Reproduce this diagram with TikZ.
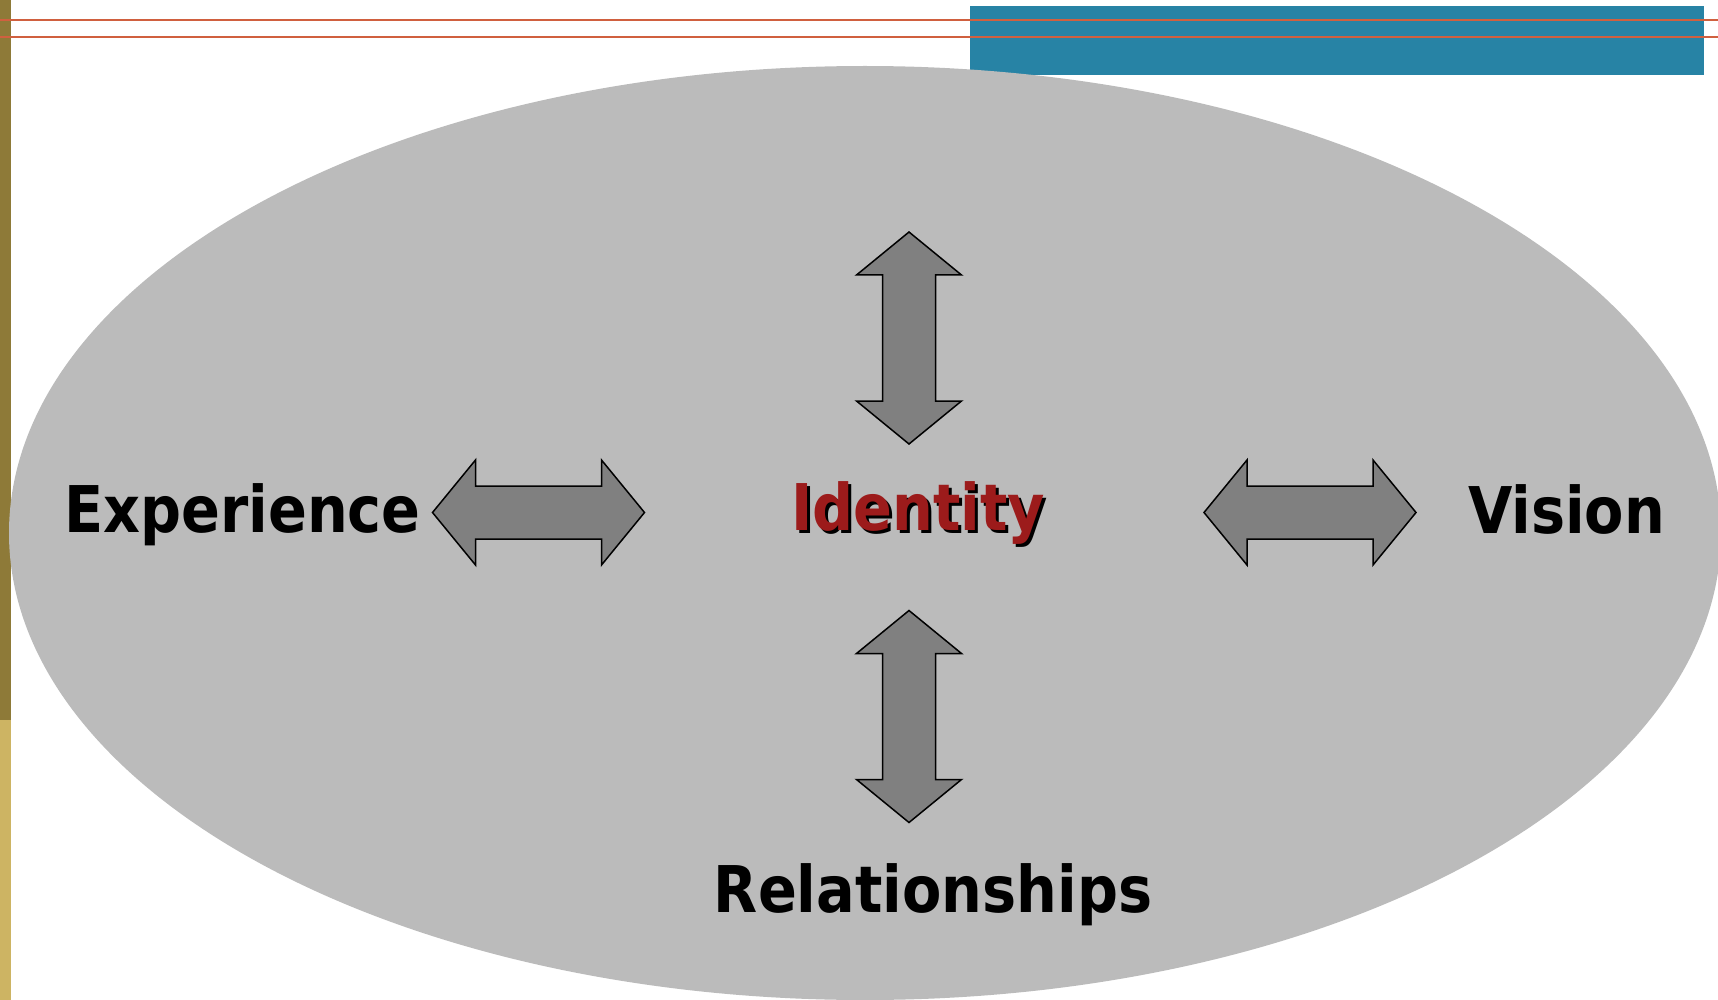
\documentclass[tikz,border=0pt]{standalone}
\usepackage{fontspec}
\newfontfamily\labelfont[FakeStretch=0.89]{DejaVu Sans Bold}
\definecolor{olivebar}{HTML}{8E7A38}
\definecolor{goldbar}{HTML}{CDB463}
\definecolor{topblue}{HTML}{2783A5}
\definecolor{rulered}{HTML}{D0603F}
\definecolor{ovalgray}{HTML}{BBBBBB}
\definecolor{arrowgray}{HTML}{808080}
\definecolor{idred}{HTML}{9C1B1B}
% red word with a small black drop shadow
\newcommand{\shadowword}[1]{\rlap{\hspace{1.5pt}\raisebox{-1.5pt}{\textcolor{black}{#1}}}\textcolor{idred}{#1}}
\tikzset{
  rule/.style={draw=rulered, line width=1pt},
  arrowbody/.style={fill=arrowgray, draw=black, line width=0.75pt, line join=miter},
  word/.style={anchor=base, inner sep=0pt, font=\labelfont\fontsize{32.2}{38}\selectfont},
  dblarrow/.pic={
    \path[arrowbody] (-106,0) -- (-63,-52.5) -- (-63,-26.5) -- (63,-26.5) -- (63,-52.5)
      -- (106,0) -- (63,52.5) -- (63,26.5) -- (-63,26.5) -- (-63,52.5) -- cycle;
  }
}
\begin{document}
\begin{tikzpicture}[x=0.5pt,y=-0.5pt]
  \useasboundingbox (0,0) rectangle (1718,1000);
  \clip (0,0) rectangle (1718,1000);
  % side bar
  \fill[olivebar] (0,0) rectangle (11,720);
  \fill[goldbar] (0,720) rectangle (11,1000);
  % blue header block
  \fill[topblue] (970,6) rectangle (1704,75);
  % large oval
  \fill[ovalgray] (865,533) ellipse [x radius=856, y radius=467];
  % header rules
  \draw[rule] (0,20) -- (1718,20);
  \draw[rule] (0,37) -- (1718,37);
  % arrows
  \pic at (538.5,512.5) {dblarrow};
  \pic at (1310,512.5) {dblarrow};
  \pic[rotate=90] at (909,338) {dblarrow};
  \pic[rotate=90] at (909,716.5) {dblarrow};
  % labels
  \node[word] (experience) at (242.5,532) {Experience};
  \node[word] (vision) at (1566.5,533) {Vision};
  \node[word] (relationships) at (933,912) {Relationships};
  \node[word] (identity) at (918,530) {\shadowword{Identity}};
\end{tikzpicture}
\end{document}
